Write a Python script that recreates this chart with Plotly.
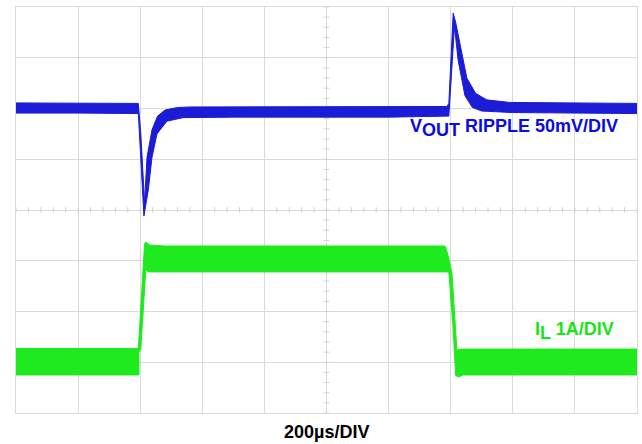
import plotly.graph_objects as go

# Oscilloscope screen: 10 horizontal divisions, 8 vertical divisions
# V_OUT band outline (upper edge and lower edge), in divisions
vout_top_x = [0.0, 1.0, 1.97, 2.01, 2.07, 2.09, 2.11, 2.19, 2.28, 2.4, 2.6, 2.8, 4.0, 6.0, 6.94,
              6.97, 7.04, 7.08, 7.13, 7.19, 7.26, 7.40, 7.58, 7.95, 9.0, 10.0]
vout_top_y = [6.11, 6.11, 6.10, 5.5, 4.15, 4.6, 5.04, 5.58, 5.85, 5.97, 6.02, 6.03, 6.03, 6.03, 6.04,
              6.1, 7.88, 7.7, 7.39, 7.0, 6.6, 6.3, 6.17, 6.12, 6.11, 6.1]
vout_bot_x = [0.0, 1.0, 1.97, 2.06, 2.13, 2.19, 2.27, 2.43, 2.69, 3.5, 6.0, 6.97,
              7.06, 7.08, 7.12, 7.18, 7.23, 7.35, 7.5, 8.0, 9.0, 10.0]
vout_bot_y = [5.91, 5.91, 5.90, 3.88, 4.39, 5.04, 5.5, 5.75, 5.82, 5.83, 5.83, 5.85,
              7.6, 7.4, 6.95, 6.55, 6.25, 6.02, 5.95, 5.92, 5.91, 5.9]

# Inductor current band outline (upper edge and lower edge), in divisions
il_top_x = [0.0, 1.97, 2.07, 2.09, 2.15, 2.4, 6.91, 6.96, 7.02, 7.10, 7.2, 10.0]
il_top_y = [1.27, 1.27, 3.33, 3.37, 3.31, 3.29, 3.29, 3.1, 2.76, 1.24, 1.26, 1.26]
il_bot_x = [0.0, 1.98, 1.98, 2.01, 2.09, 2.12, 6.97, 7.04, 7.06, 7.08, 7.13, 7.2, 10.0]
il_bot_y = [0.75, 0.75, 1.2, 1.27, 2.82, 2.78, 2.78, 1.64, 1.2, 0.74, 0.71, 0.75, 0.75]

# Centre-line minor tick positions (graticule)
h_ticks = [i / 5 for i in range(51)]
v_ticks = [i / 5 for i in range(41)]

BLUE = "#1c1cd6"
GREEN = "#1eea1e"
GRID = "#dadada"

fig = go.Figure()

# graticule centre-line minor ticks
fig.add_trace(go.Scatter(x=h_ticks, y=[4] * len(h_ticks), mode="markers",
                         marker=dict(symbol="line-ns", size=4, line=dict(color="#d2d2d2", width=1)),
                         hoverinfo="skip", showlegend=False))
fig.add_trace(go.Scatter(x=[5] * len(v_ticks), y=v_ticks, mode="markers",
                         marker=dict(symbol="line-ew", size=4, line=dict(color="#d2d2d2", width=1)),
                         hoverinfo="skip", showlegend=False))

# V_OUT band
fig.add_trace(go.Scatter(x=vout_top_x + vout_bot_x[::-1], y=vout_top_y + vout_bot_y[::-1],
                         mode="lines", fill="toself", fillcolor=BLUE,
                         line=dict(color=BLUE, width=1), hoverinfo="skip", showlegend=False))
# I_L band
fig.add_trace(go.Scatter(x=il_top_x + il_bot_x[::-1], y=il_top_y + il_bot_y[::-1],
                         mode="lines", fill="toself", fillcolor=GREEN,
                         line=dict(color=GREEN, width=1), hoverinfo="skip", showlegend=False))

# channel / trigger markers
fig.add_trace(go.Scatter(x=[2.02], y=[-0.05], mode="markers",
                         marker=dict(symbol="triangle-up", size=5, color=GREEN),
                         cliponaxis=False, hoverinfo="skip", showlegend=False))
fig.add_trace(go.Scatter(x=[10.02], y=[2.25], mode="markers",
                         marker=dict(symbol="line-ew", size=5, line=dict(color=GREEN, width=2)),
                         cliponaxis=False, hoverinfo="skip", showlegend=False))
fig.add_trace(go.Scatter(x=[-0.04], y=[6.05], mode="markers",
                         marker=dict(symbol="line-ew", size=5, line=dict(color=BLUE, width=3)),
                         cliponaxis=False, hoverinfo="skip", showlegend=False))

fig.add_annotation(x=6.31, y=5.62, xref="x", yref="y", xanchor="left", yanchor="middle",
                   text="<b>V<sub><span style='font-size:18px'>OUT</span></sub> RIPPLE 50mV/DIV</b>",
                   showarrow=False, font=dict(family="Liberation Sans, Arial", size=18, color="#0a0ae6"))
fig.add_annotation(x=8.33, y=1.62, xref="x", yref="y", xanchor="left", yanchor="middle",
                   text="<b>I<sub><span style='font-size:18px'>L</span></sub> 1A/DIV</b>",
                   showarrow=False, font=dict(family="Liberation Sans, Arial", size=18, color="#16e616"))
fig.add_annotation(x=0.5, y=-0.047, xref="paper", yref="paper", xanchor="center", yanchor="middle",
                   text="<b>200µs/DIV</b>", showarrow=False,
                   font=dict(family="Liberation Sans, Arial", size=18, color="black"))

fig.update_xaxes(range=[0, 10], dtick=1, tick0=0, showgrid=True, gridcolor=GRID, gridwidth=1,
                 showticklabels=False, zeroline=False, showline=True, linecolor=GRID, mirror=True,
                 ticks="", fixedrange=True)
fig.update_yaxes(range=[0, 8], dtick=1, tick0=0, showgrid=True, gridcolor=GRID, gridwidth=1,
                 showticklabels=False, zeroline=False, showline=True, linecolor=GRID, mirror=True,
                 ticks="", fixedrange=True)

fig.update_layout(width=642, height=444, margin=dict(l=16, r=5, t=7, b=31),
                  plot_bgcolor="white", paper_bgcolor="white", showlegend=False)

fig.write_html("out.html", config={"displayModeBar": False},
               post_script="document.body.style.margin='0';document.body.style.overflow='hidden';")
